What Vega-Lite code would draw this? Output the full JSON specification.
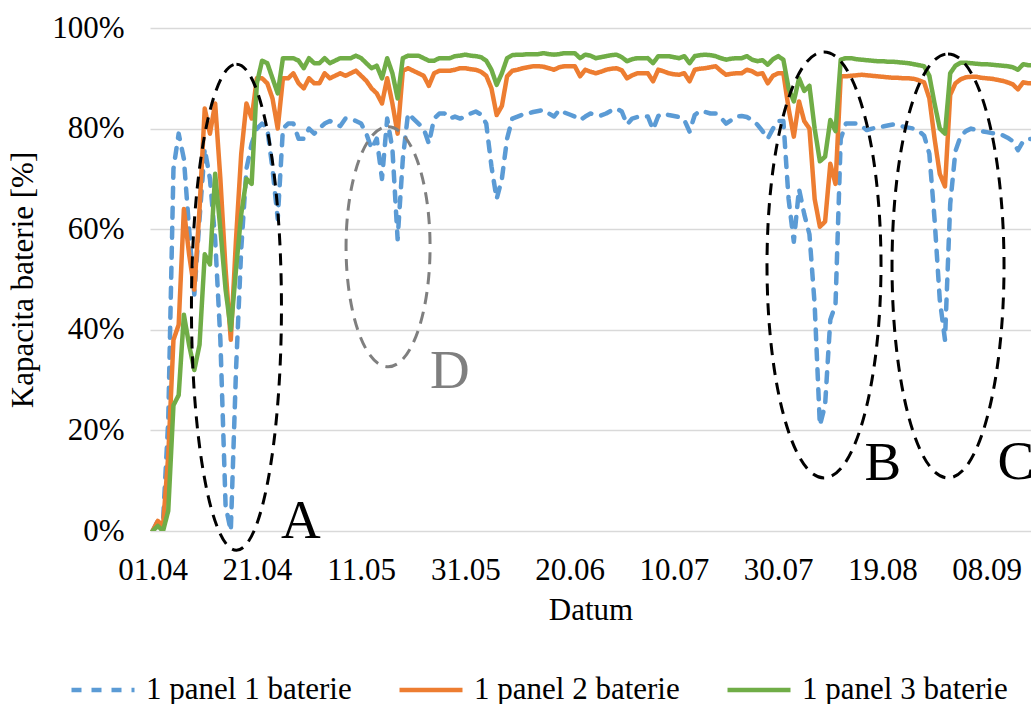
{
  "$schema": "https://vega.github.io/schema/vega-lite/v6.json",
  "width": 881,
  "height": 503,
  "autosize": {"type": "none"},
  "padding": {"left": 150, "top": 28, "right": 0, "bottom": 173},
  "background": "white",
  "config": {
    "font": "Liberation Serif",
    "view": {"stroke": null},
    "axis": {
      "labelFont": "Liberation Serif",
      "titleFont": "Liberation Serif",
      "labelColor": "#000000",
      "titleColor": "#000000",
      "labelFontSize": 31,
      "titleFontSize": 31,
      "titleFontWeight": "normal",
      "ticks": false,
      "domain": false
    }
  },
  "layer": [
    {
      "data": {
        "values": [
          {"d":"2019-04-01","s":"1 panel 1 baterie","v":0},{"d":"2019-04-02","s":"1 panel 1 baterie","v":2},{"d":"2019-04-03","s":"1 panel 1 baterie","v":2},{"d":"2019-04-04","s":"1 panel 1 baterie","v":22},{"d":"2019-04-05","s":"1 panel 1 baterie","v":72},{"d":"2019-04-06","s":"1 panel 1 baterie","v":79},{"d":"2019-04-07","s":"1 panel 1 baterie","v":74},{"d":"2019-04-08","s":"1 panel 1 baterie","v":60},{"d":"2019-04-09","s":"1 panel 1 baterie","v":47},{"d":"2019-04-10","s":"1 panel 1 baterie","v":62},
          {"d":"2019-04-11","s":"1 panel 1 baterie","v":76},{"d":"2019-04-12","s":"1 panel 1 baterie","v":70},{"d":"2019-04-13","s":"1 panel 1 baterie","v":58},{"d":"2019-04-14","s":"1 panel 1 baterie","v":38},{"d":"2019-04-15","s":"1 panel 1 baterie","v":5},{"d":"2019-04-16","s":"1 panel 1 baterie","v":0},{"d":"2019-04-17","s":"1 panel 1 baterie","v":32},{"d":"2019-04-18","s":"1 panel 1 baterie","v":56},{"d":"2019-04-19","s":"1 panel 1 baterie","v":72},{"d":"2019-04-20","s":"1 panel 1 baterie","v":77},
          {"d":"2019-04-21","s":"1 panel 1 baterie","v":80},{"d":"2019-04-22","s":"1 panel 1 baterie","v":81},{"d":"2019-04-23","s":"1 panel 1 baterie","v":80},{"d":"2019-04-24","s":"1 panel 1 baterie","v":72},{"d":"2019-04-25","s":"1 panel 1 baterie","v":62},{"d":"2019-04-26","s":"1 panel 1 baterie","v":80},{"d":"2019-04-27","s":"1 panel 1 baterie","v":81},{"d":"2019-04-28","s":"1 panel 1 baterie","v":81},{"d":"2019-04-29","s":"1 panel 1 baterie","v":78},{"d":"2019-04-30","s":"1 panel 1 baterie","v":78},
          {"d":"2019-05-01","s":"1 panel 1 baterie","v":80},{"d":"2019-05-02","s":"1 panel 1 baterie","v":79},{"d":"2019-05-03","s":"1 panel 1 baterie","v":80},{"d":"2019-05-04","s":"1 panel 1 baterie","v":81},{"d":"2019-05-05","s":"1 panel 1 baterie","v":81.5},{"d":"2019-05-06","s":"1 panel 1 baterie","v":81},{"d":"2019-05-07","s":"1 panel 1 baterie","v":80.5},{"d":"2019-05-08","s":"1 panel 1 baterie","v":82},{"d":"2019-05-09","s":"1 panel 1 baterie","v":82},{"d":"2019-05-10","s":"1 panel 1 baterie","v":81.5},
          {"d":"2019-05-11","s":"1 panel 1 baterie","v":81},{"d":"2019-05-12","s":"1 panel 1 baterie","v":79},{"d":"2019-05-13","s":"1 panel 1 baterie","v":76},{"d":"2019-05-14","s":"1 panel 1 baterie","v":78},{"d":"2019-05-15","s":"1 panel 1 baterie","v":70},{"d":"2019-05-16","s":"1 panel 1 baterie","v":82},{"d":"2019-05-17","s":"1 panel 1 baterie","v":76},{"d":"2019-05-18","s":"1 panel 1 baterie","v":58},{"d":"2019-05-19","s":"1 panel 1 baterie","v":74},{"d":"2019-05-20","s":"1 panel 1 baterie","v":83},
          {"d":"2019-05-21","s":"1 panel 1 baterie","v":82},{"d":"2019-05-22","s":"1 panel 1 baterie","v":81},{"d":"2019-05-23","s":"1 panel 1 baterie","v":80},{"d":"2019-05-24","s":"1 panel 1 baterie","v":77},{"d":"2019-05-25","s":"1 panel 1 baterie","v":82},{"d":"2019-05-26","s":"1 panel 1 baterie","v":83},{"d":"2019-05-27","s":"1 panel 1 baterie","v":83},{"d":"2019-05-28","s":"1 panel 1 baterie","v":82},{"d":"2019-05-29","s":"1 panel 1 baterie","v":82.4},{"d":"2019-05-30","s":"1 panel 1 baterie","v":82},
          {"d":"2019-05-31","s":"1 panel 1 baterie","v":82.4},{"d":"2019-06-01","s":"1 panel 1 baterie","v":83},{"d":"2019-06-02","s":"1 panel 1 baterie","v":83.4},{"d":"2019-06-03","s":"1 panel 1 baterie","v":82.8},{"d":"2019-06-04","s":"1 panel 1 baterie","v":81},{"d":"2019-06-05","s":"1 panel 1 baterie","v":72.5},{"d":"2019-06-06","s":"1 panel 1 baterie","v":66},{"d":"2019-06-07","s":"1 panel 1 baterie","v":70},{"d":"2019-06-08","s":"1 panel 1 baterie","v":78},{"d":"2019-06-09","s":"1 panel 1 baterie","v":82},
          {"d":"2019-06-10","s":"1 panel 1 baterie","v":82.4},{"d":"2019-06-11","s":"1 panel 1 baterie","v":82.8},{"d":"2019-06-12","s":"1 panel 1 baterie","v":83},{"d":"2019-06-13","s":"1 panel 1 baterie","v":83.3},{"d":"2019-06-14","s":"1 panel 1 baterie","v":83.5},{"d":"2019-06-15","s":"1 panel 1 baterie","v":83.7},{"d":"2019-06-16","s":"1 panel 1 baterie","v":83},{"d":"2019-06-17","s":"1 panel 1 baterie","v":82.4},{"d":"2019-06-18","s":"1 panel 1 baterie","v":83.7},{"d":"2019-06-19","s":"1 panel 1 baterie","v":83.2},
          {"d":"2019-06-20","s":"1 panel 1 baterie","v":82.8},{"d":"2019-06-21","s":"1 panel 1 baterie","v":82.4},{"d":"2019-06-22","s":"1 panel 1 baterie","v":81.7},{"d":"2019-06-23","s":"1 panel 1 baterie","v":82.4},{"d":"2019-06-24","s":"1 panel 1 baterie","v":83},{"d":"2019-06-25","s":"1 panel 1 baterie","v":82.8},{"d":"2019-06-26","s":"1 panel 1 baterie","v":82.6},{"d":"2019-06-27","s":"1 panel 1 baterie","v":83},{"d":"2019-06-28","s":"1 panel 1 baterie","v":83.6},{"d":"2019-06-29","s":"1 panel 1 baterie","v":84},
          {"d":"2019-06-30","s":"1 panel 1 baterie","v":83.4},{"d":"2019-07-01","s":"1 panel 1 baterie","v":80.8},{"d":"2019-07-02","s":"1 panel 1 baterie","v":82},{"d":"2019-07-03","s":"1 panel 1 baterie","v":82.3},{"d":"2019-07-04","s":"1 panel 1 baterie","v":82.4},{"d":"2019-07-05","s":"1 panel 1 baterie","v":82.4},{"d":"2019-07-06","s":"1 panel 1 baterie","v":79.8},{"d":"2019-07-07","s":"1 panel 1 baterie","v":82.5},{"d":"2019-07-08","s":"1 panel 1 baterie","v":83},{"d":"2019-07-09","s":"1 panel 1 baterie","v":82.7},
          {"d":"2019-07-10","s":"1 panel 1 baterie","v":82.5},{"d":"2019-07-11","s":"1 panel 1 baterie","v":82.3},{"d":"2019-07-12","s":"1 panel 1 baterie","v":81.7},{"d":"2019-07-13","s":"1 panel 1 baterie","v":79.4},{"d":"2019-07-14","s":"1 panel 1 baterie","v":82.7},{"d":"2019-07-15","s":"1 panel 1 baterie","v":83.5},{"d":"2019-07-16","s":"1 panel 1 baterie","v":83.3},{"d":"2019-07-17","s":"1 panel 1 baterie","v":83},{"d":"2019-07-18","s":"1 panel 1 baterie","v":83},{"d":"2019-07-19","s":"1 panel 1 baterie","v":82.2},
          {"d":"2019-07-20","s":"1 panel 1 baterie","v":81},{"d":"2019-07-21","s":"1 panel 1 baterie","v":81.7},{"d":"2019-07-22","s":"1 panel 1 baterie","v":82.4},{"d":"2019-07-23","s":"1 panel 1 baterie","v":82.5},{"d":"2019-07-24","s":"1 panel 1 baterie","v":82.3},{"d":"2019-07-25","s":"1 panel 1 baterie","v":81.7},{"d":"2019-07-26","s":"1 panel 1 baterie","v":80.8},{"d":"2019-07-27","s":"1 panel 1 baterie","v":79.5},{"d":"2019-07-28","s":"1 panel 1 baterie","v":78},{"d":"2019-07-29","s":"1 panel 1 baterie","v":80},
          {"d":"2019-07-30","s":"1 panel 1 baterie","v":81.5},{"d":"2019-07-31","s":"1 panel 1 baterie","v":81.5},{"d":"2019-08-01","s":"1 panel 1 baterie","v":66},{"d":"2019-08-02","s":"1 panel 1 baterie","v":57.5},{"d":"2019-08-03","s":"1 panel 1 baterie","v":68},{"d":"2019-08-04","s":"1 panel 1 baterie","v":63},{"d":"2019-08-05","s":"1 panel 1 baterie","v":59},{"d":"2019-08-06","s":"1 panel 1 baterie","v":45},{"d":"2019-08-07","s":"1 panel 1 baterie","v":21},{"d":"2019-08-08","s":"1 panel 1 baterie","v":25},
          {"d":"2019-08-09","s":"1 panel 1 baterie","v":42},{"d":"2019-08-10","s":"1 panel 1 baterie","v":45},{"d":"2019-08-11","s":"1 panel 1 baterie","v":78},{"d":"2019-08-12","s":"1 panel 1 baterie","v":81},{"d":"2019-08-13","s":"1 panel 1 baterie","v":81},{"d":"2019-08-14","s":"1 panel 1 baterie","v":81},{"d":"2019-08-15","s":"1 panel 1 baterie","v":80.5},{"d":"2019-08-16","s":"1 panel 1 baterie","v":79.7},{"d":"2019-08-17","s":"1 panel 1 baterie","v":80},{"d":"2019-08-18","s":"1 panel 1 baterie","v":80.2},
          {"d":"2019-08-19","s":"1 panel 1 baterie","v":80.4},{"d":"2019-08-20","s":"1 panel 1 baterie","v":80.6},{"d":"2019-08-21","s":"1 panel 1 baterie","v":80.8},{"d":"2019-08-22","s":"1 panel 1 baterie","v":80.6},{"d":"2019-08-23","s":"1 panel 1 baterie","v":80.4},{"d":"2019-08-24","s":"1 panel 1 baterie","v":80.2},{"d":"2019-08-25","s":"1 panel 1 baterie","v":80},{"d":"2019-08-26","s":"1 panel 1 baterie","v":79.5},{"d":"2019-08-27","s":"1 panel 1 baterie","v":78.6},{"d":"2019-08-28","s":"1 panel 1 baterie","v":75},
          {"d":"2019-08-29","s":"1 panel 1 baterie","v":62},{"d":"2019-08-30","s":"1 panel 1 baterie","v":46},{"d":"2019-08-31","s":"1 panel 1 baterie","v":38},{"d":"2019-09-01","s":"1 panel 1 baterie","v":65},{"d":"2019-09-02","s":"1 panel 1 baterie","v":75.5},{"d":"2019-09-03","s":"1 panel 1 baterie","v":78.5},{"d":"2019-09-04","s":"1 panel 1 baterie","v":79.5},{"d":"2019-09-05","s":"1 panel 1 baterie","v":80},{"d":"2019-09-06","s":"1 panel 1 baterie","v":79.7},{"d":"2019-09-07","s":"1 panel 1 baterie","v":79.5},
          {"d":"2019-09-08","s":"1 panel 1 baterie","v":79.3},{"d":"2019-09-09","s":"1 panel 1 baterie","v":79.1},{"d":"2019-09-10","s":"1 panel 1 baterie","v":79},{"d":"2019-09-11","s":"1 panel 1 baterie","v":78.7},{"d":"2019-09-12","s":"1 panel 1 baterie","v":78.2},{"d":"2019-09-13","s":"1 panel 1 baterie","v":77.5},{"d":"2019-09-14","s":"1 panel 1 baterie","v":75.7},{"d":"2019-09-15","s":"1 panel 1 baterie","v":77.5},{"d":"2019-09-16","s":"1 panel 1 baterie","v":77.9},{"d":"2019-09-17","s":"1 panel 1 baterie","v":78},

          {"d":"2019-04-01","s":"1 panel 2 baterie","v":0},{"d":"2019-04-02","s":"1 panel 2 baterie","v":2},{"d":"2019-04-03","s":"1 panel 2 baterie","v":1},{"d":"2019-04-04","s":"1 panel 2 baterie","v":15},{"d":"2019-04-05","s":"1 panel 2 baterie","v":38},{"d":"2019-04-06","s":"1 panel 2 baterie","v":41},{"d":"2019-04-07","s":"1 panel 2 baterie","v":64},{"d":"2019-04-08","s":"1 panel 2 baterie","v":55},{"d":"2019-04-09","s":"1 panel 2 baterie","v":48},{"d":"2019-04-10","s":"1 panel 2 baterie","v":64},
          {"d":"2019-04-11","s":"1 panel 2 baterie","v":84},{"d":"2019-04-12","s":"1 panel 2 baterie","v":79},{"d":"2019-04-13","s":"1 panel 2 baterie","v":85},{"d":"2019-04-14","s":"1 panel 2 baterie","v":70},{"d":"2019-04-15","s":"1 panel 2 baterie","v":52},{"d":"2019-04-16","s":"1 panel 2 baterie","v":38},{"d":"2019-04-17","s":"1 panel 2 baterie","v":58},{"d":"2019-04-18","s":"1 panel 2 baterie","v":75},{"d":"2019-04-19","s":"1 panel 2 baterie","v":85},{"d":"2019-04-20","s":"1 panel 2 baterie","v":82},
          {"d":"2019-04-21","s":"1 panel 2 baterie","v":90},{"d":"2019-04-22","s":"1 panel 2 baterie","v":90},{"d":"2019-04-23","s":"1 panel 2 baterie","v":89},{"d":"2019-04-24","s":"1 panel 2 baterie","v":86},{"d":"2019-04-25","s":"1 panel 2 baterie","v":80},{"d":"2019-04-26","s":"1 panel 2 baterie","v":90},{"d":"2019-04-27","s":"1 panel 2 baterie","v":90},{"d":"2019-04-28","s":"1 panel 2 baterie","v":91},{"d":"2019-04-29","s":"1 panel 2 baterie","v":89},{"d":"2019-04-30","s":"1 panel 2 baterie","v":88},
          {"d":"2019-05-01","s":"1 panel 2 baterie","v":90},{"d":"2019-05-02","s":"1 panel 2 baterie","v":89},{"d":"2019-05-03","s":"1 panel 2 baterie","v":89},{"d":"2019-05-04","s":"1 panel 2 baterie","v":91},{"d":"2019-05-05","s":"1 panel 2 baterie","v":90},{"d":"2019-05-06","s":"1 panel 2 baterie","v":90.5},{"d":"2019-05-07","s":"1 panel 2 baterie","v":91},{"d":"2019-05-08","s":"1 panel 2 baterie","v":90.5},{"d":"2019-05-09","s":"1 panel 2 baterie","v":91},{"d":"2019-05-10","s":"1 panel 2 baterie","v":91.5},
          {"d":"2019-05-11","s":"1 panel 2 baterie","v":90.5},{"d":"2019-05-12","s":"1 panel 2 baterie","v":89.5},{"d":"2019-05-13","s":"1 panel 2 baterie","v":88},{"d":"2019-05-14","s":"1 panel 2 baterie","v":87},{"d":"2019-05-15","s":"1 panel 2 baterie","v":85},{"d":"2019-05-16","s":"1 panel 2 baterie","v":90},{"d":"2019-05-17","s":"1 panel 2 baterie","v":85},{"d":"2019-05-18","s":"1 panel 2 baterie","v":79},{"d":"2019-05-19","s":"1 panel 2 baterie","v":91.5},{"d":"2019-05-20","s":"1 panel 2 baterie","v":92},
          {"d":"2019-05-21","s":"1 panel 2 baterie","v":91.5},{"d":"2019-05-22","s":"1 panel 2 baterie","v":91},{"d":"2019-05-23","s":"1 panel 2 baterie","v":90.5},{"d":"2019-05-24","s":"1 panel 2 baterie","v":88.5},{"d":"2019-05-25","s":"1 panel 2 baterie","v":91},{"d":"2019-05-26","s":"1 panel 2 baterie","v":91.5},{"d":"2019-05-27","s":"1 panel 2 baterie","v":91.5},{"d":"2019-05-28","s":"1 panel 2 baterie","v":91.5},{"d":"2019-05-29","s":"1 panel 2 baterie","v":91.7},{"d":"2019-05-30","s":"1 panel 2 baterie","v":92},
          {"d":"2019-05-31","s":"1 panel 2 baterie","v":92},{"d":"2019-06-01","s":"1 panel 2 baterie","v":91.8},{"d":"2019-06-02","s":"1 panel 2 baterie","v":91.7},{"d":"2019-06-03","s":"1 panel 2 baterie","v":91.3},{"d":"2019-06-04","s":"1 panel 2 baterie","v":90.5},{"d":"2019-06-05","s":"1 panel 2 baterie","v":88},{"d":"2019-06-06","s":"1 panel 2 baterie","v":82.7},{"d":"2019-06-07","s":"1 panel 2 baterie","v":84.5},{"d":"2019-06-08","s":"1 panel 2 baterie","v":90.4},{"d":"2019-06-09","s":"1 panel 2 baterie","v":91.5},
          {"d":"2019-06-10","s":"1 panel 2 baterie","v":91.7},{"d":"2019-06-11","s":"1 panel 2 baterie","v":92},{"d":"2019-06-12","s":"1 panel 2 baterie","v":92.2},{"d":"2019-06-13","s":"1 panel 2 baterie","v":92.4},{"d":"2019-06-14","s":"1 panel 2 baterie","v":92.4},{"d":"2019-06-15","s":"1 panel 2 baterie","v":92.3},{"d":"2019-06-16","s":"1 panel 2 baterie","v":92},{"d":"2019-06-17","s":"1 panel 2 baterie","v":91.7},{"d":"2019-06-18","s":"1 panel 2 baterie","v":92.2},{"d":"2019-06-19","s":"1 panel 2 baterie","v":92.4},
          {"d":"2019-06-20","s":"1 panel 2 baterie","v":92.4},{"d":"2019-06-21","s":"1 panel 2 baterie","v":92.4},{"d":"2019-06-22","s":"1 panel 2 baterie","v":90.4},{"d":"2019-06-23","s":"1 panel 2 baterie","v":91.7},{"d":"2019-06-24","s":"1 panel 2 baterie","v":91.3},{"d":"2019-06-25","s":"1 panel 2 baterie","v":91},{"d":"2019-06-26","s":"1 panel 2 baterie","v":91.3},{"d":"2019-06-27","s":"1 panel 2 baterie","v":91.7},{"d":"2019-06-28","s":"1 panel 2 baterie","v":91.9},{"d":"2019-06-29","s":"1 panel 2 baterie","v":92},
          {"d":"2019-06-30","s":"1 panel 2 baterie","v":91.6},{"d":"2019-07-01","s":"1 panel 2 baterie","v":90},{"d":"2019-07-02","s":"1 panel 2 baterie","v":90.6},{"d":"2019-07-03","s":"1 panel 2 baterie","v":91},{"d":"2019-07-04","s":"1 panel 2 baterie","v":91},{"d":"2019-07-05","s":"1 panel 2 baterie","v":91},{"d":"2019-07-06","s":"1 panel 2 baterie","v":89.4},{"d":"2019-07-07","s":"1 panel 2 baterie","v":91.7},{"d":"2019-07-08","s":"1 panel 2 baterie","v":91.4},{"d":"2019-07-09","s":"1 panel 2 baterie","v":91},
          {"d":"2019-07-10","s":"1 panel 2 baterie","v":90.8},{"d":"2019-07-11","s":"1 panel 2 baterie","v":90.7},{"d":"2019-07-12","s":"1 panel 2 baterie","v":91},{"d":"2019-07-13","s":"1 panel 2 baterie","v":89.4},{"d":"2019-07-14","s":"1 panel 2 baterie","v":91.7},{"d":"2019-07-15","s":"1 panel 2 baterie","v":91.9},{"d":"2019-07-16","s":"1 panel 2 baterie","v":92},{"d":"2019-07-17","s":"1 panel 2 baterie","v":92.2},{"d":"2019-07-18","s":"1 panel 2 baterie","v":92.4},{"d":"2019-07-19","s":"1 panel 2 baterie","v":91.5},
          {"d":"2019-07-20","s":"1 panel 2 baterie","v":90.7},{"d":"2019-07-21","s":"1 panel 2 baterie","v":90.9},{"d":"2019-07-22","s":"1 panel 2 baterie","v":91},{"d":"2019-07-23","s":"1 panel 2 baterie","v":91},{"d":"2019-07-24","s":"1 panel 2 baterie","v":91.7},{"d":"2019-07-25","s":"1 panel 2 baterie","v":91.4},{"d":"2019-07-26","s":"1 panel 2 baterie","v":90.8},{"d":"2019-07-27","s":"1 panel 2 baterie","v":91},{"d":"2019-07-28","s":"1 panel 2 baterie","v":89},{"d":"2019-07-29","s":"1 panel 2 baterie","v":90.5},
          {"d":"2019-07-30","s":"1 panel 2 baterie","v":91},{"d":"2019-07-31","s":"1 panel 2 baterie","v":91},{"d":"2019-08-01","s":"1 panel 2 baterie","v":84},{"d":"2019-08-02","s":"1 panel 2 baterie","v":78.4},{"d":"2019-08-03","s":"1 panel 2 baterie","v":85.4},{"d":"2019-08-04","s":"1 panel 2 baterie","v":81.5},{"d":"2019-08-05","s":"1 panel 2 baterie","v":80},{"d":"2019-08-06","s":"1 panel 2 baterie","v":66},{"d":"2019-08-07","s":"1 panel 2 baterie","v":60.5},{"d":"2019-08-08","s":"1 panel 2 baterie","v":61.5},
          {"d":"2019-08-09","s":"1 panel 2 baterie","v":73},{"d":"2019-08-10","s":"1 panel 2 baterie","v":69},{"d":"2019-08-11","s":"1 panel 2 baterie","v":90.4},{"d":"2019-08-12","s":"1 panel 2 baterie","v":90.4},{"d":"2019-08-13","s":"1 panel 2 baterie","v":90.5},{"d":"2019-08-14","s":"1 panel 2 baterie","v":90.6},{"d":"2019-08-15","s":"1 panel 2 baterie","v":90.7},{"d":"2019-08-16","s":"1 panel 2 baterie","v":90.6},{"d":"2019-08-17","s":"1 panel 2 baterie","v":90.5},{"d":"2019-08-18","s":"1 panel 2 baterie","v":90.4},
          {"d":"2019-08-19","s":"1 panel 2 baterie","v":90.3},{"d":"2019-08-20","s":"1 panel 2 baterie","v":90.2},{"d":"2019-08-21","s":"1 panel 2 baterie","v":90.1},{"d":"2019-08-22","s":"1 panel 2 baterie","v":90.1},{"d":"2019-08-23","s":"1 panel 2 baterie","v":90},{"d":"2019-08-24","s":"1 panel 2 baterie","v":90},{"d":"2019-08-25","s":"1 panel 2 baterie","v":89.9},{"d":"2019-08-26","s":"1 panel 2 baterie","v":89.6},{"d":"2019-08-27","s":"1 panel 2 baterie","v":89.2},{"d":"2019-08-28","s":"1 panel 2 baterie","v":86},
          {"d":"2019-08-29","s":"1 panel 2 baterie","v":78},{"d":"2019-08-30","s":"1 panel 2 baterie","v":71},{"d":"2019-08-31","s":"1 panel 2 baterie","v":68.5},{"d":"2019-09-01","s":"1 panel 2 baterie","v":86.7},{"d":"2019-09-02","s":"1 panel 2 baterie","v":89},{"d":"2019-09-03","s":"1 panel 2 baterie","v":89.8},{"d":"2019-09-04","s":"1 panel 2 baterie","v":90.2},{"d":"2019-09-05","s":"1 panel 2 baterie","v":90.3},{"d":"2019-09-06","s":"1 panel 2 baterie","v":90.3},{"d":"2019-09-07","s":"1 panel 2 baterie","v":90.1},
          {"d":"2019-09-08","s":"1 panel 2 baterie","v":90},{"d":"2019-09-09","s":"1 panel 2 baterie","v":89.9},{"d":"2019-09-10","s":"1 panel 2 baterie","v":89.7},{"d":"2019-09-11","s":"1 panel 2 baterie","v":89.5},{"d":"2019-09-12","s":"1 panel 2 baterie","v":89.2},{"d":"2019-09-13","s":"1 panel 2 baterie","v":88.8},{"d":"2019-09-14","s":"1 panel 2 baterie","v":87.8},{"d":"2019-09-15","s":"1 panel 2 baterie","v":89.2},{"d":"2019-09-16","s":"1 panel 2 baterie","v":89},{"d":"2019-09-17","s":"1 panel 2 baterie","v":89},

          {"d":"2019-04-01","s":"1 panel 3 baterie","v":0},{"d":"2019-04-02","s":"1 panel 3 baterie","v":1},{"d":"2019-04-03","s":"1 panel 3 baterie","v":0},{"d":"2019-04-04","s":"1 panel 3 baterie","v":4},{"d":"2019-04-05","s":"1 panel 3 baterie","v":25},{"d":"2019-04-06","s":"1 panel 3 baterie","v":27},{"d":"2019-04-07","s":"1 panel 3 baterie","v":43},{"d":"2019-04-08","s":"1 panel 3 baterie","v":37},{"d":"2019-04-09","s":"1 panel 3 baterie","v":32},{"d":"2019-04-10","s":"1 panel 3 baterie","v":37},
          {"d":"2019-04-11","s":"1 panel 3 baterie","v":55},{"d":"2019-04-12","s":"1 panel 3 baterie","v":53},{"d":"2019-04-13","s":"1 panel 3 baterie","v":71},{"d":"2019-04-14","s":"1 panel 3 baterie","v":60},{"d":"2019-04-15","s":"1 panel 3 baterie","v":48},{"d":"2019-04-16","s":"1 panel 3 baterie","v":40},{"d":"2019-04-17","s":"1 panel 3 baterie","v":52},{"d":"2019-04-18","s":"1 panel 3 baterie","v":63},{"d":"2019-04-19","s":"1 panel 3 baterie","v":70},{"d":"2019-04-20","s":"1 panel 3 baterie","v":69},
          {"d":"2019-04-21","s":"1 panel 3 baterie","v":89},{"d":"2019-04-22","s":"1 panel 3 baterie","v":93.5},{"d":"2019-04-23","s":"1 panel 3 baterie","v":93},{"d":"2019-04-24","s":"1 panel 3 baterie","v":90},{"d":"2019-04-25","s":"1 panel 3 baterie","v":87},{"d":"2019-04-26","s":"1 panel 3 baterie","v":94},{"d":"2019-04-27","s":"1 panel 3 baterie","v":94},{"d":"2019-04-28","s":"1 panel 3 baterie","v":94},{"d":"2019-04-29","s":"1 panel 3 baterie","v":93.5},{"d":"2019-04-30","s":"1 panel 3 baterie","v":92},
          {"d":"2019-05-01","s":"1 panel 3 baterie","v":94},{"d":"2019-05-02","s":"1 panel 3 baterie","v":93},{"d":"2019-05-03","s":"1 panel 3 baterie","v":93},{"d":"2019-05-04","s":"1 panel 3 baterie","v":94},{"d":"2019-05-05","s":"1 panel 3 baterie","v":93},{"d":"2019-05-06","s":"1 panel 3 baterie","v":93.5},{"d":"2019-05-07","s":"1 panel 3 baterie","v":94},{"d":"2019-05-08","s":"1 panel 3 baterie","v":94},{"d":"2019-05-09","s":"1 panel 3 baterie","v":94},{"d":"2019-05-10","s":"1 panel 3 baterie","v":94.5},
          {"d":"2019-05-11","s":"1 panel 3 baterie","v":94},{"d":"2019-05-12","s":"1 panel 3 baterie","v":93},{"d":"2019-05-13","s":"1 panel 3 baterie","v":92},{"d":"2019-05-14","s":"1 panel 3 baterie","v":92.5},{"d":"2019-05-15","s":"1 panel 3 baterie","v":90},{"d":"2019-05-16","s":"1 panel 3 baterie","v":94},{"d":"2019-05-17","s":"1 panel 3 baterie","v":91},{"d":"2019-05-18","s":"1 panel 3 baterie","v":86},{"d":"2019-05-19","s":"1 panel 3 baterie","v":94},{"d":"2019-05-20","s":"1 panel 3 baterie","v":94.5},
          {"d":"2019-05-21","s":"1 panel 3 baterie","v":94.5},{"d":"2019-05-22","s":"1 panel 3 baterie","v":94.5},{"d":"2019-05-23","s":"1 panel 3 baterie","v":94},{"d":"2019-05-24","s":"1 panel 3 baterie","v":93.5},{"d":"2019-05-25","s":"1 panel 3 baterie","v":93.5},{"d":"2019-05-26","s":"1 panel 3 baterie","v":94},{"d":"2019-05-27","s":"1 panel 3 baterie","v":94},{"d":"2019-05-28","s":"1 panel 3 baterie","v":94},{"d":"2019-05-29","s":"1 panel 3 baterie","v":94.4},{"d":"2019-05-30","s":"1 panel 3 baterie","v":94.5},
          {"d":"2019-05-31","s":"1 panel 3 baterie","v":94.7},{"d":"2019-06-01","s":"1 panel 3 baterie","v":94.5},{"d":"2019-06-02","s":"1 panel 3 baterie","v":94.4},{"d":"2019-06-03","s":"1 panel 3 baterie","v":94.2},{"d":"2019-06-04","s":"1 panel 3 baterie","v":93.5},{"d":"2019-06-05","s":"1 panel 3 baterie","v":91.7},{"d":"2019-06-06","s":"1 panel 3 baterie","v":88.7},{"d":"2019-06-07","s":"1 panel 3 baterie","v":91},{"d":"2019-06-08","s":"1 panel 3 baterie","v":94},{"d":"2019-06-09","s":"1 panel 3 baterie","v":94.6},
          {"d":"2019-06-10","s":"1 panel 3 baterie","v":94.7},{"d":"2019-06-11","s":"1 panel 3 baterie","v":94.7},{"d":"2019-06-12","s":"1 panel 3 baterie","v":94.8},{"d":"2019-06-13","s":"1 panel 3 baterie","v":94.8},{"d":"2019-06-14","s":"1 panel 3 baterie","v":94.8},{"d":"2019-06-15","s":"1 panel 3 baterie","v":95},{"d":"2019-06-16","s":"1 panel 3 baterie","v":94.8},{"d":"2019-06-17","s":"1 panel 3 baterie","v":94.7},{"d":"2019-06-18","s":"1 panel 3 baterie","v":94.8},{"d":"2019-06-19","s":"1 panel 3 baterie","v":95},
          {"d":"2019-06-20","s":"1 panel 3 baterie","v":95},{"d":"2019-06-21","s":"1 panel 3 baterie","v":95},{"d":"2019-06-22","s":"1 panel 3 baterie","v":94},{"d":"2019-06-23","s":"1 panel 3 baterie","v":94.7},{"d":"2019-06-24","s":"1 panel 3 baterie","v":94.5},{"d":"2019-06-25","s":"1 panel 3 baterie","v":94},{"d":"2019-06-26","s":"1 panel 3 baterie","v":94.2},{"d":"2019-06-27","s":"1 panel 3 baterie","v":94.4},{"d":"2019-06-28","s":"1 panel 3 baterie","v":94.6},{"d":"2019-06-29","s":"1 panel 3 baterie","v":94.7},
          {"d":"2019-06-30","s":"1 panel 3 baterie","v":94.2},{"d":"2019-07-01","s":"1 panel 3 baterie","v":93.4},{"d":"2019-07-02","s":"1 panel 3 baterie","v":93.8},{"d":"2019-07-03","s":"1 panel 3 baterie","v":94},{"d":"2019-07-04","s":"1 panel 3 baterie","v":94},{"d":"2019-07-05","s":"1 panel 3 baterie","v":94},{"d":"2019-07-06","s":"1 panel 3 baterie","v":93},{"d":"2019-07-07","s":"1 panel 3 baterie","v":94.4},{"d":"2019-07-08","s":"1 panel 3 baterie","v":94.4},{"d":"2019-07-09","s":"1 panel 3 baterie","v":94.4},
          {"d":"2019-07-10","s":"1 panel 3 baterie","v":94.2},{"d":"2019-07-11","s":"1 panel 3 baterie","v":94},{"d":"2019-07-12","s":"1 panel 3 baterie","v":94.4},{"d":"2019-07-13","s":"1 panel 3 baterie","v":93},{"d":"2019-07-14","s":"1 panel 3 baterie","v":94.4},{"d":"2019-07-15","s":"1 panel 3 baterie","v":94.6},{"d":"2019-07-16","s":"1 panel 3 baterie","v":94.7},{"d":"2019-07-17","s":"1 panel 3 baterie","v":94.6},{"d":"2019-07-18","s":"1 panel 3 baterie","v":94.4},{"d":"2019-07-19","s":"1 panel 3 baterie","v":94},
          {"d":"2019-07-20","s":"1 panel 3 baterie","v":93.7},{"d":"2019-07-21","s":"1 panel 3 baterie","v":93.9},{"d":"2019-07-22","s":"1 panel 3 baterie","v":94},{"d":"2019-07-23","s":"1 panel 3 baterie","v":94},{"d":"2019-07-24","s":"1 panel 3 baterie","v":94.4},{"d":"2019-07-25","s":"1 panel 3 baterie","v":93.7},{"d":"2019-07-26","s":"1 panel 3 baterie","v":93.4},{"d":"2019-07-27","s":"1 panel 3 baterie","v":93.6},{"d":"2019-07-28","s":"1 panel 3 baterie","v":92.7},{"d":"2019-07-29","s":"1 panel 3 baterie","v":93.8},
          {"d":"2019-07-30","s":"1 panel 3 baterie","v":94.4},{"d":"2019-07-31","s":"1 panel 3 baterie","v":93.7},{"d":"2019-08-01","s":"1 panel 3 baterie","v":88},{"d":"2019-08-02","s":"1 panel 3 baterie","v":85.4},{"d":"2019-08-03","s":"1 panel 3 baterie","v":90},{"d":"2019-08-04","s":"1 panel 3 baterie","v":87.5},{"d":"2019-08-05","s":"1 panel 3 baterie","v":88.5},{"d":"2019-08-06","s":"1 panel 3 baterie","v":80},{"d":"2019-08-07","s":"1 panel 3 baterie","v":73.5},{"d":"2019-08-08","s":"1 panel 3 baterie","v":74.4},
          {"d":"2019-08-09","s":"1 panel 3 baterie","v":81.7},{"d":"2019-08-10","s":"1 panel 3 baterie","v":79.5},{"d":"2019-08-11","s":"1 panel 3 baterie","v":93.7},{"d":"2019-08-12","s":"1 panel 3 baterie","v":94},{"d":"2019-08-13","s":"1 panel 3 baterie","v":94},{"d":"2019-08-14","s":"1 panel 3 baterie","v":93.8},{"d":"2019-08-15","s":"1 panel 3 baterie","v":93.7},{"d":"2019-08-16","s":"1 panel 3 baterie","v":93.6},{"d":"2019-08-17","s":"1 panel 3 baterie","v":93.5},{"d":"2019-08-18","s":"1 panel 3 baterie","v":93.4},
          {"d":"2019-08-19","s":"1 panel 3 baterie","v":93.4},{"d":"2019-08-20","s":"1 panel 3 baterie","v":93.3},{"d":"2019-08-21","s":"1 panel 3 baterie","v":93.3},{"d":"2019-08-22","s":"1 panel 3 baterie","v":93.2},{"d":"2019-08-23","s":"1 panel 3 baterie","v":93.1},{"d":"2019-08-24","s":"1 panel 3 baterie","v":93},{"d":"2019-08-25","s":"1 panel 3 baterie","v":92.8},{"d":"2019-08-26","s":"1 panel 3 baterie","v":92.6},{"d":"2019-08-27","s":"1 panel 3 baterie","v":92.4},{"d":"2019-08-28","s":"1 panel 3 baterie","v":90.5},
          {"d":"2019-08-29","s":"1 panel 3 baterie","v":85},{"d":"2019-08-30","s":"1 panel 3 baterie","v":80},{"d":"2019-08-31","s":"1 panel 3 baterie","v":79},{"d":"2019-09-01","s":"1 panel 3 baterie","v":91},{"d":"2019-09-02","s":"1 panel 3 baterie","v":92.5},{"d":"2019-09-03","s":"1 panel 3 baterie","v":93.1},{"d":"2019-09-04","s":"1 panel 3 baterie","v":93.1},{"d":"2019-09-05","s":"1 panel 3 baterie","v":93},{"d":"2019-09-06","s":"1 panel 3 baterie","v":92.9},{"d":"2019-09-07","s":"1 panel 3 baterie","v":92.8},
          {"d":"2019-09-08","s":"1 panel 3 baterie","v":92.8},{"d":"2019-09-09","s":"1 panel 3 baterie","v":92.7},{"d":"2019-09-10","s":"1 panel 3 baterie","v":92.6},{"d":"2019-09-11","s":"1 panel 3 baterie","v":92.5},{"d":"2019-09-12","s":"1 panel 3 baterie","v":92.4},{"d":"2019-09-13","s":"1 panel 3 baterie","v":92.2},{"d":"2019-09-14","s":"1 panel 3 baterie","v":91.7},{"d":"2019-09-15","s":"1 panel 3 baterie","v":92.8},{"d":"2019-09-16","s":"1 panel 3 baterie","v":92.6},{"d":"2019-09-17","s":"1 panel 3 baterie","v":92.6}
        ]
      },
      "mark": {"type": "line", "strokeWidth": 4.5, "strokeCap": "round", "strokeJoin": "round", "clip": true},
      "encoding": {
        "x": {
          "field": "d",
          "type": "temporal",
          "scale": {
            "type": "utc",
            "domain": [
              {"year": 2019, "month": 3, "date": 31, "hours": 12, "utc": true},
              {"year": 2019, "month": 9, "date": 16, "hours": 12, "utc": true}
            ]
          },
          "axis": {
            "title": "Datum",
            "values": [
              {"year": 2019, "month": 4, "date": 1, "utc": true},
              {"year": 2019, "month": 4, "date": 21, "utc": true},
              {"year": 2019, "month": 5, "date": 11, "utc": true},
              {"year": 2019, "month": 5, "date": 31, "utc": true},
              {"year": 2019, "month": 6, "date": 20, "utc": true},
              {"year": 2019, "month": 7, "date": 10, "utc": true},
              {"year": 2019, "month": 7, "date": 30, "utc": true},
              {"year": 2019, "month": 8, "date": 19, "utc": true},
              {"year": 2019, "month": 9, "date": 8, "utc": true}
            ],
            "labelExpr": "utcFormat(datum.value, '%d.%m')",
            "grid": false,
            "labelFlush": false,
            "labelOverlap": false,
            "labelPadding": 24,
            "titlePadding": 10
          }
        },
        "y": {
          "field": "v",
          "type": "quantitative",
          "scale": {"domain": [0, 100], "nice": false, "zero": false},
          "axis": {
            "title": "Kapacita baterie [%]",
            "values": [0, 20, 40, 60, 80, 100],
            "labelExpr": "datum.value + '%'",
            "grid": true,
            "gridColor": "#D9D9D9",
            "gridWidth": 1.5,
            "labelPadding": 26,
            "titlePadding": 12
          }
        },
        "color": {
          "field": "s",
          "type": "nominal",
          "scale": {
            "domain": ["1 panel 1 baterie", "1 panel 2 baterie", "1 panel 3 baterie"],
            "range": ["#5B9BD5", "#ED7D31", "#70AD47"]
          },
          "legend": {
            "title": null, "orient": "none", "legendX": -81, "legendY": 628, "direction": "horizontal", "columns": 3,
            "symbolType": "stroke", "symbolSize": 3969, "symbolStrokeWidth": 4.5,
            "labelFontSize": 31, "labelFont": "Liberation Serif", "labelColor": "#000000", "labelLimit": 0,
            "labelOffset": 9, "columnPadding": 38, "padding": 0
          }
        },
        "strokeDash": {
          "field": "s",
          "type": "nominal",
          "scale": {
            "domain": ["1 panel 1 baterie", "1 panel 2 baterie", "1 panel 3 baterie"],
            "range": [[10, 10], [1, 0], [1, 0]]
          },
          "legend": {
            "title": null, "orient": "none", "legendX": -81, "legendY": 628, "direction": "horizontal", "columns": 3,
            "symbolType": "stroke", "symbolSize": 3969, "symbolStrokeWidth": 4.5,
            "labelFontSize": 31, "labelFont": "Liberation Serif", "labelColor": "#000000", "labelLimit": 0,
            "labelOffset": 9, "columnPadding": 38, "padding": 0
          }
        }
      }
    },
    {
      "data": {
        "values": [
          {"d": "2019-04-17T02:00:00Z", "v": 44.5, "e": "A"},
          {"d": "2019-05-16T04:00:00Z", "v": 56.5, "e": "D"},
          {"d": "2019-08-07T19:00:00Z", "v": 52.9, "e": "B"},
          {"d": "2019-08-31T14:00:00Z", "v": 52.7, "e": "C"}
        ]
      },
      "mark": {"type": "point", "filled": false, "size": 4, "strokeWidth": 3, "strokeDash": [12, 8], "opacity": 1},
      "encoding": {
        "x": {"field": "d", "type": "temporal"},
        "y": {"field": "v", "type": "quantitative"},
        "shape": {
          "field": "e",
          "type": "nominal",
          "scale": {
            "domain": ["A", "B", "C", "D"],
            "range": [
              "M0,-243C24.85,-243,45,-134.2,45,0C45,134.2,24.85,243,0,243C-24.85,243,-45,134.2,-45,0C-45,-134.2,-24.85,-243,0,-243Z",
              "M0,-213C31.48,-213,57,-117.6,57,0C57,117.6,31.48,213,0,213C-31.48,213,-57,117.6,-57,0C-57,-117.6,-31.48,-213,0,-213Z",
              "M0,-212C30.93,-212,56,-117.1,56,0C56,117.1,30.93,212,0,212C-30.93,212,-56,117.1,-56,0C-56,-117.1,-30.93,-212,0,-212Z",
              "M0,-120C23.2,-120,42,-66.3,42,0C42,66.3,23.2,120,0,120C-23.2,120,-42,66.3,-42,0C-42,-66.3,-23.2,-120,0,-120Z"
            ]
          },
          "legend": null
        },
        "stroke": {
          "field": "e",
          "type": "nominal",
          "scale": {"domain": ["A", "B", "C", "D"], "range": ["#000000", "#000000", "#000000", "#7F7F7F"]},
          "legend": null
        }
      }
    },
    {
      "data": {
        "values": [
          {"d": "2019-04-29T11:00:00Z", "v": -1.4, "t": "A"},
          {"d": "2019-08-19T02:00:00Z", "v": 10.1, "t": "B"},
          {"d": "2019-09-13T14:00:00Z", "v": 10.3, "t": "C"}
        ]
      },
      "mark": {"type": "text", "fontSize": 55, "font": "Liberation Serif", "baseline": "alphabetic", "align": "center", "color": "#000000"},
      "encoding": {
        "x": {"field": "d", "type": "temporal"},
        "y": {"field": "v", "type": "quantitative"},
        "text": {"field": "t"}
      }
    },
    {
      "data": {
        "values": [
          {"d": "2019-05-28T01:00:00Z", "v": 28.4, "t": "D"}
        ]
      },
      "mark": {"type": "text", "fontSize": 55, "font": "Liberation Serif", "baseline": "alphabetic", "align": "center", "color": "#7F7F7F"},
      "encoding": {
        "x": {"field": "d", "type": "temporal"},
        "y": {"field": "v", "type": "quantitative"},
        "text": {"field": "t"}
      }
    }
  ]
}
